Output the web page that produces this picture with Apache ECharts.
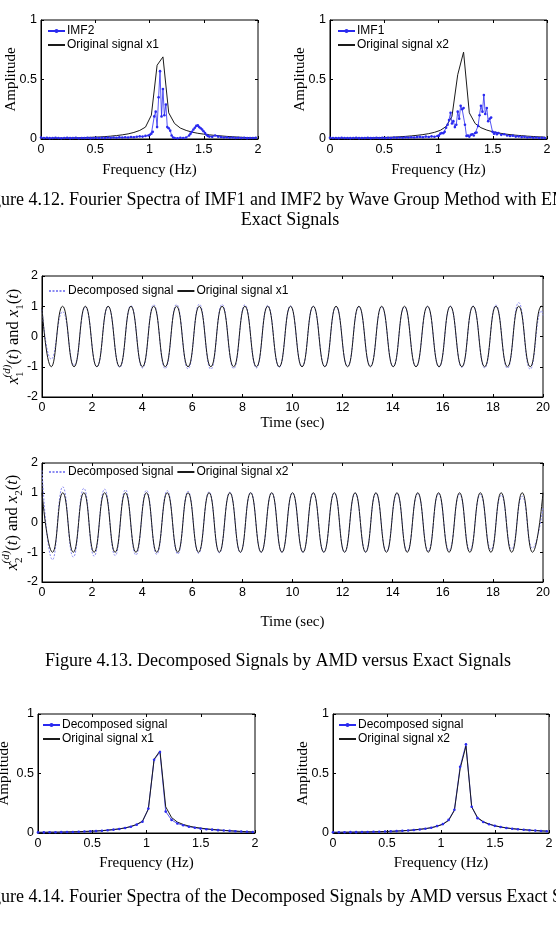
<!DOCTYPE html>
<html>
<head>
<meta charset="utf-8">
<script src="https://cdn.jsdelivr.net/npm/echarts@6/dist/echarts.min.js"></script>
<style>
  html, body { margin: 0; padding: 0; background: #fff; }
  #chart { width: 556px; height: 929px; }
</style>
</head>
<body>
<div id="chart"></div>
<script>
// frequency bins of the spectra (Hz)
const freq = [0, 0.054, 0.107, 0.161, 0.214, 0.268, 0.321, 0.375, 0.428, 0.482, 0.535, 0.589, 0.642, 0.696, 0.749, 0.803, 0.856, 0.910, 0.963, 1.017,
              1.070, 1.124, 1.177, 1.231, 1.284, 1.338, 1.391, 1.445, 1.498, 1.552, 1.605, 1.659, 1.712, 1.766, 1.819, 1.873, 1.926, 1.980];
// exact signal spectra
const x1Spec = [0.006, 0.006, 0.007, 0.007, 0.008, 0.009, 0.010, 0.011, 0.013, 0.015, 0.017, 0.020, 0.024, 0.029, 0.035, 0.043, 0.055, 0.072, 0.100, 0.200,
                0.620, 0.690, 0.220, 0.130, 0.092, 0.072, 0.058, 0.048, 0.041, 0.035, 0.030, 0.026, 0.022, 0.019, 0.016, 0.013, 0.011, 0.009];
const x2Spec = [0.006, 0.006, 0.007, 0.007, 0.008, 0.008, 0.009, 0.010, 0.011, 0.013, 0.014, 0.016, 0.019, 0.022, 0.026, 0.031, 0.037, 0.045, 0.056, 0.073,
                0.105, 0.190, 0.540, 0.730, 0.220, 0.130, 0.095, 0.075, 0.061, 0.051, 0.043, 0.037, 0.032, 0.028, 0.024, 0.021, 0.018, 0.016];
// AMD decomposed signal spectra
const x1DecSpec = [0.005, 0.005, 0.006, 0.006, 0.007, 0.008, 0.009, 0.010, 0.012, 0.014, 0.016, 0.019, 0.023, 0.028, 0.034, 0.042, 0.053, 0.070, 0.095, 0.205,
                   0.615, 0.680, 0.180, 0.110, 0.080, 0.065, 0.052, 0.044, 0.037, 0.032, 0.028, 0.024, 0.021, 0.018, 0.015, 0.012, 0.010, 0.008];
const x2DecSpec = [0.006, 0.006, 0.006, 0.007, 0.007, 0.008, 0.009, 0.010, 0.011, 0.012, 0.014, 0.016, 0.018, 0.021, 0.025, 0.030, 0.036, 0.044, 0.058, 0.075,
                   0.110, 0.195, 0.556, 0.745, 0.220, 0.125, 0.092, 0.073, 0.060, 0.050, 0.042, 0.036, 0.031, 0.027, 0.023, 0.020, 0.017, 0.015];
// EMD wave-group IMF spectra [Hz, amplitude]
const imf2 = [[0, 0.012], [0.027, 0.008], [0.054, 0.010], [0.080, 0.007], [0.107, 0.009], [0.134, 0.011], [0.161, 0.008], [0.187, 0.006], [0.214, 0.009],
  [0.241, 0.010], [0.268, 0.007], [0.294, 0.008], [0.321, 0.010], [0.348, 0.006], [0.375, 0.009], [0.401, 0.008], [0.428, 0.011], [0.455, 0.007],
  [0.482, 0.009], [0.508, 0.010], [0.535, 0.008], [0.562, 0.011], [0.589, 0.009], [0.615, 0.012], [0.642, 0.010], [0.669, 0.013], [0.696, 0.011],
  [0.722, 0.014], [0.749, 0.012], [0.776, 0.015], [0.803, 0.013], [0.829, 0.017], [0.856, 0.015], [0.883, 0.019], [0.910, 0.022], [0.936, 0.020],
  [0.963, 0.026], [0.990, 0.030], [1.004, 0.036], [1.017, 0.045], [1.030, 0.060], [1.044, 0.190], [1.057, 0.230], [1.070, 0.100], [1.084, 0.350],
  [1.097, 0.570], [1.111, 0.190], [1.124, 0.420], [1.137, 0.200], [1.151, 0.290], [1.164, 0.100], [1.177, 0.090], [1.191, 0.070], [1.204, 0.030],
  [1.218, 0.012], [1.231, 0.008], [1.258, 0.006], [1.284, 0.010], [1.311, 0.008], [1.338, 0.012], [1.365, 0.030], [1.378, 0.045], [1.391, 0.060],
  [1.405, 0.080], [1.418, 0.095], [1.431, 0.110], [1.445, 0.115], [1.458, 0.100], [1.472, 0.090], [1.485, 0.080], [1.498, 0.065], [1.512, 0.050],
  [1.525, 0.035], [1.538, 0.025], [1.552, 0.020], [1.578, 0.018], [1.605, 0.030], [1.632, 0.020], [1.659, 0.016], [1.685, 0.012], [1.712, 0.014],
  [1.739, 0.010], [1.766, 0.012], [1.793, 0.009], [1.819, 0.011], [1.846, 0.008], [1.873, 0.010], [1.900, 0.007], [1.926, 0.009], [1.953, 0.008], [1.980, 0.010]];
const imf1 = [[0, 0.010], [0.027, 0.008], [0.054, 0.009], [0.080, 0.007], [0.107, 0.010], [0.134, 0.008], [0.161, 0.009], [0.187, 0.007], [0.214, 0.008],
  [0.241, 0.010], [0.268, 0.007], [0.294, 0.009], [0.321, 0.008], [0.348, 0.010], [0.375, 0.007], [0.401, 0.009], [0.428, 0.011], [0.455, 0.008],
  [0.482, 0.010], [0.508, 0.009], [0.535, 0.011], [0.562, 0.008], [0.589, 0.012], [0.615, 0.010], [0.642, 0.013], [0.669, 0.011], [0.696, 0.014],
  [0.722, 0.012], [0.749, 0.015], [0.776, 0.013], [0.803, 0.016], [0.829, 0.018], [0.856, 0.015], [0.883, 0.020], [0.910, 0.017], [0.936, 0.022],
  [0.963, 0.019], [0.990, 0.025], [1.004, 0.028], [1.017, 0.045], [1.030, 0.050], [1.044, 0.048], [1.057, 0.060], [1.070, 0.095], [1.084, 0.120],
  [1.097, 0.160], [1.111, 0.220], [1.124, 0.130], [1.137, 0.150], [1.151, 0.100], [1.164, 0.120], [1.177, 0.230], [1.191, 0.170], [1.204, 0.280],
  [1.218, 0.250], [1.231, 0.260], [1.244, 0.120], [1.258, 0.025], [1.271, 0.030], [1.284, 0.020], [1.298, 0.035], [1.311, 0.040], [1.325, 0.030],
  [1.338, 0.050], [1.351, 0.055], [1.365, 0.110], [1.378, 0.200], [1.391, 0.280], [1.405, 0.230], [1.418, 0.370], [1.431, 0.210], [1.445, 0.260],
  [1.458, 0.150], [1.472, 0.170], [1.485, 0.180], [1.498, 0.060], [1.512, 0.045], [1.525, 0.055], [1.538, 0.040], [1.552, 0.050], [1.578, 0.035],
  [1.605, 0.040], [1.632, 0.030], [1.659, 0.025], [1.685, 0.028], [1.712, 0.020], [1.739, 0.022], [1.766, 0.016], [1.793, 0.018], [1.819, 0.012],
  [1.846, 0.015], [1.873, 0.010], [1.900, 0.012], [1.926, 0.009], [1.953, 0.011], [1.980, 0.008]];

// time histories: start, then trough/peak instants (sec)
const x1Time = [0, 0.37, 0.82, 1.28, 1.73, 2.19, 2.64, 3.10, 3.55, 4.01, 4.46, 4.92, 5.37, 5.83, 6.28, 6.74, 7.19, 7.65, 8.10, 8.56, 9.01, 9.47, 9.92,
                10.38, 10.83, 11.29, 11.74, 12.20, 12.65, 13.11, 13.56, 14.02, 14.47, 14.93, 15.39, 15.85, 16.30, 16.76, 17.21, 17.67, 18.12, 18.58,
                19.03, 19.49, 19.94, 20.0];
const x1Orig = [0.95, -1, 1, -1, 1, -1, 1, -1, 1, -1, 1, -1, 1, -1, 1, -1, 1, -1, 1, -1, 1, -1, 1,
                -1, 1, -1, 1, -1, 1, -1, 1, -1, 1, -1, 1, -1, 1, -1, 1, -1, 1, -1, 1, -1, 1, 0.98];
const x1Dec = [0.90, -0.75, 0.82, -0.95, 0.98, -1.00, 1.00, -1.02, 1.02, -1.04, 1.05, -1.06, 1.06, -1.07, 1.07, -1.08, 1.06, -1.06, 1.05, -1.04, 1.03,
               -1.02, 1.01, -1.00, 1.00, -0.99, 0.99, -0.98, 0.98, -0.98, 0.98, -0.99, 0.98, -1.00, 0.99, -1.01, 1.00, -1.02, 1.01, -1.04, 1.04,
               -1.05, 1.12, -1.08, 0.85, 0.70];
const x2Time = [0, 0.42, 0.83, 1.25, 1.67, 2.08, 2.50, 2.92, 3.33, 3.75, 4.17, 4.58, 5.00, 5.42, 5.83, 6.25, 6.67, 7.08, 7.50, 7.92, 8.33, 8.75,
                9.17, 9.58, 10.00, 10.42, 10.83, 11.25, 11.67, 12.08, 12.50, 12.92, 13.33, 13.75, 14.17, 14.58, 15.00, 15.42, 15.83, 16.25, 16.67,
                17.08, 17.50, 17.92, 18.33, 18.75, 19.17, 19.58, 20.00];
const x2Orig = [1, -1, 1, -1, 1, -1, 1, -1, 1, -1, 1, -1, 1, -1, 1, -1, 1, -1, 1, -1, 1, -1, 1, -1, 1,
                -1, 1, -1, 1, -1, 1, -1, 1, -1, 1, -1, 1, -1, 1, -1, 1, -1, 1, -1, 1, -1, 1, -1, 1];
const x2Dec = [1.75, -1.25, 1.20, -1.16, 1.15, -1.13, 1.12, -1.11, 1.10, -1.09, 1.08, -1.07, 1.07, -1.06, 1.05, -1.04, 1.03, -1.02, 1.02, -1.01,
               1.01, -1.00, 1.00, -1.00, 1.00, -1.00, 1.00, -0.99, 0.99, -0.99, 0.98, -0.98, 0.98, -0.97, 0.97, -0.96, 0.97, -0.95, 0.96, -0.94,
               0.95, -0.93, 0.94, -0.91, 0.92, -0.89, 0.88, -0.86, 0.50];

const freqTicks = [0, 2, 0.5];   // min, max, step
const ampTicks = [0, 1, 0.5];
const timeTicks = [0, 20, 2];
const respTicks = [-2, 2, 1];

const SANS = '"Liberation Sans", Arial, sans-serif';
const SERIF = '"Liberation Serif", "Times New Roman", serif';
const BLUE = '#2a2af0';
const BLACK = '#1a1a1a';

const xyName = '{i|x}{s|1}{u|(d)}{n|(}{i|t}{n|) and }{i|x}{s|1}{n|(}{i|t}{n|)}';
const xyName2 = '{i|x}{s|2}{u|(d)}{n|(}{i|t}{n|) and }{i|x}{s|2}{n|(}{i|t}{n|)}';
const mathRich = {
  i: { fontFamily: SERIF, fontStyle: 'italic', fontSize: 16.5, lineHeight: 24 },
  n: { fontFamily: SERIF, fontSize: 16.5, lineHeight: 24 },
  s: { fontFamily: SERIF, fontSize: 11, verticalAlign: 'bottom', lineHeight: 24 },
  u: { fontFamily: SERIF, fontStyle: 'italic', fontSize: 11, verticalAlign: 'top', lineHeight: 24, padding: [0, 0, 0, -6] }
};

const panels = [
  { left: 41, top: 20, width: 217, height: 119, x: freqTicks, y: ampTicks, xName: 'Frequency (Hz)', xGap: 24, yName: 'Amplitude', yGap: 22 },
  { left: 330, top: 20, width: 217, height: 119, x: freqTicks, y: ampTicks, xName: 'Frequency (Hz)', xGap: 24, yName: 'Amplitude', yGap: 22 },
  { left: 42, top: 276, width: 501, height: 121, x: timeTicks, y: respTicks, xName: 'Time (sec)', xGap: 19, yName: xyName, yGap: 16, rich: true },
  { left: 42, top: 463, width: 501, height: 119, x: timeTicks, y: respTicks, xName: 'Time (sec)', xGap: 33, yName: xyName2, yGap: 17, rich: true },
  { left: 38, top: 714, width: 217, height: 119, x: freqTicks, y: ampTicks, xName: 'Frequency (Hz)', xGap: 23, yName: 'Amplitude', yGap: 26 },
  { left: 333, top: 714, width: 216, height: 119, x: freqTicks, y: ampTicks, xName: 'Frequency (Hz)', xGap: 23, yName: 'Amplitude', yGap: 22 }
];

const grids = [], xAxes = [], yAxes = [];
const tick = { inside: true, length: 3, lineStyle: { color: '#000', width: 1 } };
panels.forEach((p, i) => {
  grids.push({
    left: p.left, top: p.top, width: p.width, height: p.height, show: true, borderColor: '#000', borderWidth: 1,
    containLabel: false, outerBoundsMode: 'none'
  });
  const xs = { type: 'value', gridIndex: i, min: p.x[0], max: p.x[1], interval: p.x[2], splitLine: { show: false } };
  const ys = { type: 'value', gridIndex: i, min: p.y[0], max: p.y[1], interval: p.y[2], splitLine: { show: false } };
  xAxes.push({
    ...xs, position: 'bottom', name: p.xName, nameLocation: 'middle', nameGap: p.xGap, nameMoveOverlap: false,
    nameTextStyle: { fontFamily: SERIF, fontSize: 15, color: '#000' },
    axisLine: { onZero: false, lineStyle: { color: '#000' } }, axisTick: tick,
    axisLabel: { margin: 4, fontFamily: SANS, fontSize: 12.5, color: '#000' }
  });
  xAxes.push({ ...xs, position: 'top', axisLine: { show: false, onZero: false }, axisTick: tick, axisLabel: { show: false } });
  yAxes.push({
    ...ys, position: 'left', name: p.yName, nameLocation: 'middle', nameGap: p.yGap, nameMoveOverlap: false,
    nameTextStyle: p.rich ? { color: '#000', rich: mathRich } : { fontFamily: SERIF, fontSize: 15, color: '#000' },
    axisLine: { onZero: false, lineStyle: { color: '#000' } }, axisTick: tick,
    axisLabel: { margin: 4, fontFamily: SANS, fontSize: 12.5, color: '#000' }
  });
  yAxes.push({ ...ys, position: 'right', axisLine: { show: false, onZero: false }, axisTick: tick, axisLabel: { show: false } });
});

const pairs = (xs, ys) => xs.map((x, k) => [x, ys[k]]);
const blackLine = (name, i, data, smooth) => ({
  name, type: 'line', xAxisIndex: 2 * i, yAxisIndex: 2 * i, data, smooth: smooth || false,
  symbol: 'none', lineStyle: { color: BLACK, width: 1 }, itemStyle: { color: BLACK }
});
const blueMarked = (name, i, data) => ({
  name, type: 'line', xAxisIndex: 2 * i, yAxisIndex: 2 * i, data, showAllSymbol: true,
  symbol: 'circle', symbolSize: 2.6, lineStyle: { color: BLUE, width: 0.8 }, itemStyle: { color: BLUE }
});
const blueDotted = (name, i, data) => ({
  name, type: 'line', xAxisIndex: 2 * i, yAxisIndex: 2 * i, data, smooth: 0.5,
  symbol: 'none', lineStyle: { color: '#8a8af2', width: 1, type: [2, 1.5] }, itemStyle: { color: '#8a8af2' }
});

const series = [
  blackLine('Original signal x1#1', 0, pairs(freq, x1Spec)),
  blueMarked('IMF2', 0, imf2),
  blackLine('Original signal x2#2', 1, pairs(freq, x2Spec)),
  blueMarked('IMF1', 1, imf1),
  blueDotted('Decomposed signal#3', 2, pairs(x1Time, x1Dec)),
  blackLine('Original signal x1#3', 2, pairs(x1Time, x1Orig), 0.5),
  blueDotted('Decomposed signal#4', 3, pairs(x2Time, x2Dec)),
  blackLine('Original signal x2#4', 3, pairs(x2Time, x2Orig), 0.5),
  blueMarked('Decomposed signal#5', 4, pairs(freq, x1DecSpec)),
  blackLine('Original signal x1#5', 4, pairs(freq, x1Spec)),
  blueMarked('Decomposed signal#6', 5, pairs(freq, x2DecSpec)),
  blackLine('Original signal x2#6', 5, pairs(freq, x2Spec))
];

// legend entries: plain line icons carry no marker
const plain = (name) => ({ name, itemStyle: { opacity: 0 } });
const legendAt = (left, top, orient, data) => ({
  left, top, orient, data, padding: 0, itemGap: orient === 'vertical' ? 2 : 3,
  itemWidth: 17, itemHeight: 5, selectedMode: false,
  formatter: (n) => n.split('#')[0],
  textStyle: { fontFamily: SANS, fontSize: 12, color: '#000', padding: [0, 0, 0, -3] }
});

const caption = (text, x, y, align) => ({
  type: 'text', x, y,
  style: { text, fill: '#000', font: '18px ' + SERIF, textAlign: align, textVerticalAlign: 'middle', verticalAlign: 'middle' }
});

const chart = echarts.init(document.getElementById('chart'), null, { renderer: 'canvas' });
chart.setOption({
  animation: false,
  backgroundColor: '#fff',
  grid: grids, xAxis: xAxes, yAxis: yAxes, series,
  legend: [
    legendAt(47, 25, 'vertical', ['IMF2', plain('Original signal x1#1')]),
    legendAt(337, 25, 'vertical', ['IMF1', plain('Original signal x2#2')]),
    legendAt(48, 285, 'horizontal', [plain('Decomposed signal#3'), plain('Original signal x1#3')]),
    legendAt(48, 466, 'horizontal', [plain('Decomposed signal#4'), plain('Original signal x2#4')]),
    legendAt(42, 719, 'vertical', ['Decomposed signal#5', plain('Original signal x1#5')]),
    legendAt(338, 719, 'vertical', ['Decomposed signal#6', plain('Original signal x2#6')])
  ],
  graphic: [
    caption('Figure 4.12. Fourier Spectra of IMF1 and IMF2 by Wave Group Method with EMD versus', -23, 200, 'left'),
    caption('Exact Signals', 290, 220, 'center'),
    caption('Figure 4.13. Decomposed Signals by AMD versus Exact Signals', 278, 661, 'center'),
    caption('Figure 4.14. Fourier Spectra of the Decomposed Signals by AMD versus Exact Signals', -23, 897, 'left')
  ]
});
</script>
</body>
</html>
